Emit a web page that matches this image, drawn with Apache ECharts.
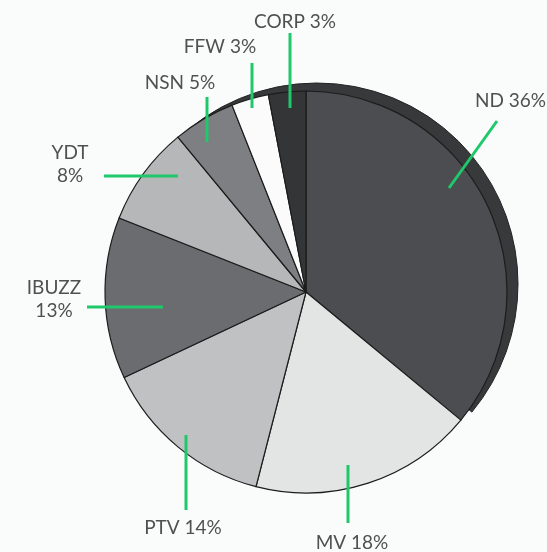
<!DOCTYPE html>
<html>
<head>
<meta charset="utf-8">
<script src="https://cdn.jsdelivr.net/npm/echarts@6/dist/echarts.min.js"></script>
<style>
html,body{margin:0;padding:0;background:#fafcfb;}
#c{width:547px;height:552px;}
</style>
</head>
<body>
<div id="c"></div>
<script>
// ---- data ----
const categories = ['ND', 'MV', 'PTV', 'IBUZZ', 'YDT', 'NSN', 'FFW', 'CORP'];
const shares = [36, 18, 14, 13, 8, 5, 3, 3];

// ---- styles ----
const sliceColors = ['#4b4d50', '#e3e4e4', '#c0c1c3', '#6b6c6f', '#b6b7b9', '#7e7f82', '#fbfbfb', '#333537'];
const labelSep = [' ', ' ', ' ', '\n', '\n', ' ', ' ', ' '];
const labelAnchors = [
  {x: 475, y: 101, align: 'left'},
  {x: 352, y: 543, align: 'center'},
  {x: 183, y: 528, align: 'center'},
  {x: 54,  y: 299, align: 'center'},
  {x: 70,  y: 164, align: 'center'},
  {x: 180, y: 83,  align: 'center'},
  {x: 220, y: 47,  align: 'center'},
  {x: 295, y: 22,  align: 'center'}
];
const leaderLines = [
  [[497, 121], [449, 188]],
  [[348, 465], [348, 523]],
  [[186, 435], [186, 510]],
  [[87, 307], [163, 307]],
  [[104, 176], [178, 176]],
  [[207, 97], [207, 142]],
  [[252, 63], [252, 108]],
  [[290, 33], [290, 108]]
];
const pieCenter = [306, 292];
const pieRadius = 201;
const rimCenter = [317, 284];

// rim (3D edge) spans from the start of NSN, over the top, to the end of ND
const total = shares.reduce((a, b) => a + b, 0);
const ndEnd = shares[0] / total * 360;
const nsnStart = (shares.slice(0, 5).reduce((a, b) => a + b, 0)) / total * 360;
const rimSpan = ndEnd + (360 - nsnStart);

const sliceData = categories.map((c, i) => ({
  name: c,
  value: shares[i],
  itemStyle: {color: sliceColors[i]}
}));

const chart = echarts.init(document.getElementById('c'), null, {renderer: 'canvas'});
chart.setOption({
  backgroundColor: '#fafcfb',
  animation: false,
  series: [
    {
      // 3D rim behind the pie
      type: 'pie',
      z: 1,
      silent: true,
      center: rimCenter,
      radius: [0, pieRadius],
      startAngle: 90 + (360 - nsnStart),
      clockwise: true,
      label: {show: false},
      labelLine: {show: false},
      emphasis: {disabled: true},
      data: [
        {value: rimSpan, itemStyle: {color: '#37393b', borderColor: '#222', borderWidth: 1}},
        {value: 360 - rimSpan, itemStyle: {color: 'rgba(0,0,0,0)', borderWidth: 0}}
      ]
    },
    {
      // the pie itself
      type: 'pie',
      z: 2,
      center: pieCenter,
      radius: [0, pieRadius],
      startAngle: 90,
      clockwise: true,
      emphasis: {disabled: true},
      itemStyle: {borderColor: '#1c1c1c', borderWidth: 1.2},
      label: {show: false},
      labelLine: {show: false},
      data: sliceData
    },
    {
      // transparent overlay carrying labels and leader lines above the slices
      type: 'pie',
      z: 3,
      silent: true,
      center: pieCenter,
      radius: [0, pieRadius],
      startAngle: 90,
      clockwise: true,
      avoidLabelOverlap: false,
      emphasis: {disabled: true},
      itemStyle: {color: 'rgba(0,0,0,0)', borderWidth: 0},
      label: {
        show: true,
        position: 'outside',
        width: 140,
        overflow: 'none',
        fontFamily: 'Lato',
        fontSize: 19,
        lineHeight: 23,
        color: '#505050',
        formatter: p => p.name + labelSep[p.dataIndex] + p.value + '%'
      },
      labelLine: {
        show: true,
        lineStyle: {color: '#1fc86a', width: 3}
      },
      labelLayout: function (params) {
        const a = labelAnchors[params.dataIndex];
        return {
          x: a.x,
          y: a.y,
          align: a.align,
          verticalAlign: 'middle',
          labelLinePoints: leaderLines[params.dataIndex]
        };
      },
      data: categories.map((c, i) => ({name: c, value: shares[i]}))
    }
  ]
});
</script>
</body>
</html>
